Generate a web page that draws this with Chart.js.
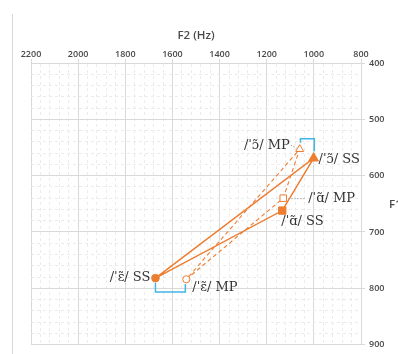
<!DOCTYPE html>
<html>
<head>
<meta charset="utf-8">
<script src="https://cdn.jsdelivr.net/npm/chart.js@4"></script>
<style>
  html, body { margin: 0; padding: 0; background: #fff; overflow: hidden; }
  canvas { display: block; }
</style>
</head>
<body>
<canvas id="c" width="398" height="354"></canvas>
<script>
// Nasal vowels, formant means (Hz)
const vowels = ['ɛ̃', 'ɑ̃', 'ɔ̃'];
const ssF2 = [1672, 1134, 1001];
const ssF1 = [782, 662, 569];
const mpF2 = [1541, 1130, 1060];
const mpF1 = [784, 640, 553];

// Axis ticks
const f2Ticks = [2200, 2000, 1800, 1600, 1400, 1200, 1000, 800];
const f1Ticks = [400, 500, 600, 700, 800, 900];

const ORANGE = '#ED7D31';
const BLUE = '#41b6e6';
const GRID = '#d9d9d9';
const MINOR = '#ebebeb';
const TEXT = '#4a4a4a';

const toPoints = (f2, f1) => f2.map((x, i) => ({ x, y: f1[i] }));
const closed = pts => pts.concat([pts[0]]);

const ssPts = toPoints(ssF2, ssF1);
const mpPts = toPoints(mpF2, mpF1);

// Label placement relative to each marker (pixels)
const labelPlacement = {
  ss: [
    { dx: -5, dy: -1, align: 'right', leader: true },
    { dx: -1, dy: 11, align: 'left' },
    { dx: 5, dy: 1, align: 'left' }
  ],
  mp: [
    { dx: 6, dy: 8, align: 'left' },
    { dx: 25, dy: 0, align: 'left', leader: true },
    { dx: -10, dy: -4, align: 'right', leader: true }
  ]
};

const isMajor = (v, list) => list.includes(Math.round(v));

const decor = {
  id: 'decor',
  afterDatasetsDraw(chart) {
    const { ctx, scales: { x, y } } = chart;
    const px = p => ({ x: x.getPixelForValue(p.x), y: y.getPixelForValue(p.y) });

    ctx.save();

    // page rule on the left
    ctx.strokeStyle = '#d6d6d6';
    ctx.lineWidth = 1;
    ctx.beginPath();
    ctx.moveTo(12.5, 14);
    ctx.lineTo(12.5, 354);
    ctx.stroke();

    // F2 difference brackets
    ctx.strokeStyle = BLUE;
    ctx.lineWidth = 1.5;
    // /ɔ̃/ : bracket above
    {
      const a = px(mpPts[2]), b = px(ssPts[2]);
      const top = Math.min(a.y, b.y) - 10.5;
      ctx.beginPath();
      ctx.moveTo(a.x + 0.7, a.y - 6.5);
      ctx.lineTo(a.x + 0.7, top);
      ctx.lineTo(b.x + 0.7, top);
      ctx.lineTo(b.x + 0.7, b.y - 7);
      ctx.stroke();
    }
    // /ɛ̃/ : bracket below
    {
      const a = px(ssPts[0]), b = px(mpPts[0]);
      const bot = Math.max(a.y, b.y) + 12.7;
      ctx.beginPath();
      ctx.moveTo(a.x, a.y + 4.7);
      ctx.lineTo(a.x, bot);
      ctx.lineTo(b.x - 1, bot);
      ctx.lineTo(b.x - 1, b.y + 4.7);
      ctx.stroke();
    }

    // vowel labels with dotted leaders
    ctx.font = '13px "DejaVu Serif", serif';
    ctx.textBaseline = 'middle';
    const drawSeries = (pts, tag, key) => {
      pts.forEach((p, i) => {
        const q = px(p);
        const lp = labelPlacement[key][i];
        const text = '/ˈ' + vowels[i] + '/ ' + tag;
        const tx = q.x + lp.dx, ty = q.y + lp.dy;
        ctx.fillStyle = '#333333';
        ctx.textAlign = lp.align;
        ctx.fillText(text, tx, ty);
        if (lp.leader) {
          ctx.save();
          ctx.strokeStyle = '#a6a6a6';
          ctx.lineWidth = 1;
          ctx.setLineDash([1.5, 1.5]);
          ctx.beginPath();
          if (lp.align === 'right') {
            ctx.moveTo(tx + 1, ty);
            ctx.lineTo(q.x - 3, q.y - 1);
          } else {
            ctx.moveTo(q.x + 5, q.y + 0.5);
            ctx.lineTo(tx - 3, ty + 0.5);
          }
          ctx.stroke();
          ctx.restore();
        }
      });
    };
    drawSeries(ssPts, 'SS', 'ss');
    drawSeries(mpPts, 'MP', 'mp');

    // F1 axis title
    ctx.fillStyle = TEXT;
    ctx.font = '600 11.5px "Open Sans", sans-serif';
    ctx.textAlign = 'left';
    ctx.textBaseline = 'middle';
    ctx.fillText('F1 (Hz)', 389, (chart.chartArea.top + chart.chartArea.bottom) / 2 + 1);

    ctx.restore();
  }
};

new Chart(document.getElementById('c'), {
  type: 'scatter',
  data: {
    datasets: [
      {
        label: 'SS',
        data: closed(ssPts),
        showLine: true,
        borderColor: ORANGE,
        borderWidth: 1.5,
        pointRadius: 0,
        order: 4
      },
      {
        label: 'MP',
        data: closed(mpPts),
        showLine: true,
        borderColor: ORANGE,
        borderWidth: 1.1,
        borderDash: [4, 3],
        pointRadius: 0,
        order: 3
      },
      {
        label: 'MP markers',
        data: mpPts,
        showLine: false,
        pointStyle: ['circle', 'rect', 'triangle'],
        pointRadius: [3.6, 4.6, 4.6],
        backgroundColor: '#ffffff',
        borderColor: ORANGE,
        borderWidth: 1,
        order: 2
      },
      {
        label: 'SS markers',
        data: ssPts,
        showLine: false,
        pointStyle: ['circle', 'rect', 'triangle'],
        pointRadius: [3.8, 5.2, 5.6],
        backgroundColor: ORANGE,
        borderColor: ORANGE,
        borderWidth: 1,
        order: 1
      }
    ]
  },
  options: {
    responsive: false,
    animation: false,
    events: [],
    layout: { padding: { left: 31, right: 0, top: 0, bottom: 4 } },
    plugins: { legend: { display: false }, tooltip: { enabled: false } },
    scales: {
      x: {
        type: 'linear',
        position: 'top',
        reverse: true,
        min: Math.min(...f2Ticks),
        max: Math.max(...f2Ticks),
        afterFit: s => { s.height = 63; },
        ticks: {
          stepSize: 40,
          autoSkip: false,
          maxRotation: 0,
          padding: -1,
          color: TEXT,
          font: { family: '"Open Sans", sans-serif', size: 9, weight: '600' },
          callback: v => isMajor(v, f2Ticks) ? String(Math.round(v)) : ''
        },
        grid: {
          lineWidth: 1,
          tickLength: 4,
          color: c => isMajor(c.tick.value, f2Ticks) ? GRID : MINOR,
          tickColor: c => isMajor(c.tick.value, f2Ticks) ? GRID : 'rgba(0,0,0,0)'
        },
        border: {
          color: GRID,
          dash: c => (c.tick && !isMajor(c.tick.value, f2Ticks)) ? [3, 3] : []
        },
        title: {
          display: true,
          text: 'F2 (Hz)',
          color: TEXT,
          font: { family: '"Open Sans", sans-serif', size: 11.5, weight: '600' },
          padding: { top: 29, bottom: 0 }
        }
      },
      y: {
        type: 'linear',
        position: 'right',
        reverse: true,
        min: Math.min(...f1Ticks),
        max: Math.max(...f1Ticks),
        afterFit: s => { s.width = 37; },
        ticks: {
          stepSize: 20,
          autoSkip: false,
          padding: 4,
          color: TEXT,
          font: { family: '"Open Sans", sans-serif', size: 9, weight: '600' },
          callback: v => isMajor(v, f1Ticks) ? String(Math.round(v)) : ''
        },
        grid: {
          lineWidth: 1,
          tickLength: 4,
          color: c => isMajor(c.tick.value, f1Ticks) ? GRID : MINOR,
          tickColor: c => isMajor(c.tick.value, f1Ticks) ? GRID : 'rgba(0,0,0,0)'
        },
        border: {
          color: GRID,
          dash: c => (c.tick && !isMajor(c.tick.value, f1Ticks)) ? [3, 3] : []
        }
      }
    }
  },
  plugins: [decor]
});
</script>
</body>
</html>
